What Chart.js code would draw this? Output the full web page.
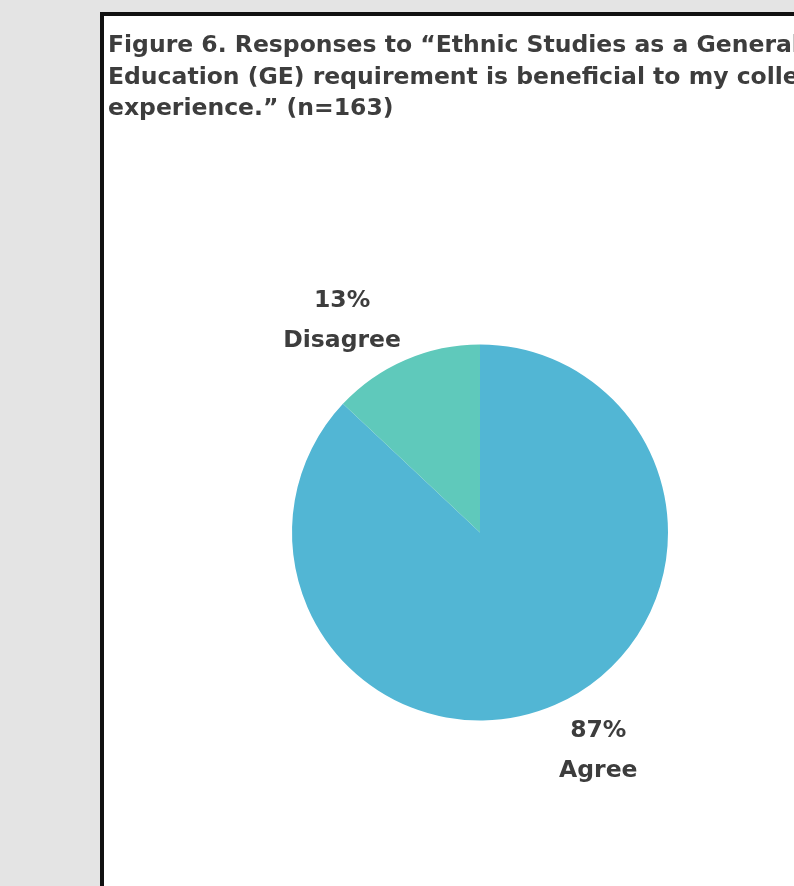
<!DOCTYPE html>
<html>
<head>
<meta charset="utf-8">
<script src="https://cdn.jsdelivr.net/npm/chart.js@4"></script>
<style>
  body { margin: 0; background: #e4e4e4; overflow: hidden; }
  .frame {
    position: absolute; left: 100px; top: 12px;
    width: 800px; height: 900px;
    border: 4px solid #111; background: #fff;
  }
  #pie { position: absolute; left: 108px; top: 16px; }
</style>
</head>
<body>
<div class="frame"></div>
<canvas id="pie" width="744" height="870"></canvas>
<script>
const categories = ['Agree', 'Disagree'];
const percents = [87, 13];
const colors = ['#52b6d4', '#5fc9bb'];
const titleLines = [
    'Figure 6. Responses to \u201cEthnic Studies as a General',
    'Education (GE) requirement is beneficial to my college',
    'experience.\u201d (n=163)'
];

const fontFamily = '"DejaVu Sans", sans-serif';
const fontSize = 23.5;

// labels outside the slices: "87%" over "Agree"
const outsideLabels = {
    id: 'outsideLabels',
    afterDatasetsDraw(chart) {
        const ctx = chart.ctx;
        const meta = chart.getDatasetMeta(0);
        ctx.save();
        ctx.font = 'bold ' + fontSize + 'px ' + fontFamily;
        ctx.fillStyle = '#3d3d3d';
        ctx.textAlign = 'center';
        ctx.textBaseline = 'alphabetic';
        const cap = 19, gap = 39.5, pad = 3;
        meta.data.forEach((arc, i) => {
            const lines = [percents[i] + '%', categories[i]];
            const mid = (arc.startAngle + arc.endAngle) / 2;
            const r = arc.outerRadius + 11;
            const px = arc.x + Math.cos(mid) * r;
            const py = arc.y + Math.sin(mid) * r;
            const w = Math.max(...lines.map(l => ctx.measureText(l).width));
            const h = pad * 2 + cap + (lines.length - 1) * gap;
            const left = Math.cos(mid) >= 0 ? px : px - w;
            const top = Math.sin(mid) >= 0 ? py : py - h;
            lines.forEach((l, j) => {
                ctx.fillText(l, left + w / 2, top + pad + cap + j * gap);
            });
        });
        ctx.restore();
    }
};

new Chart(document.getElementById('pie'), {
    type: 'pie',
    data: {
        labels: categories,
        datasets: [{
            data: percents,
            backgroundColor: colors,
            borderWidth: 0,
            hoverOffset: 0
        }]
    },
    options: {
        responsive: false,
        animation: false,
        layout: { padding: { top: 0, left: 0, right: 0, bottom: 165.5 } },
        plugins: {
            legend: { display: false },
            tooltip: { enabled: false },
            title: {
                display: true,
                text: titleLines,
                align: 'start',
                color: '#3d3d3d',
                font: { family: fontFamily, size: fontSize, weight: 'bold', lineHeight: 31.5 / fontSize },
                padding: { top: 14.25, bottom: 219.75 }
            }
        }
    },
    plugins: [outsideLabels]
});
</script>
</body>
</html>
